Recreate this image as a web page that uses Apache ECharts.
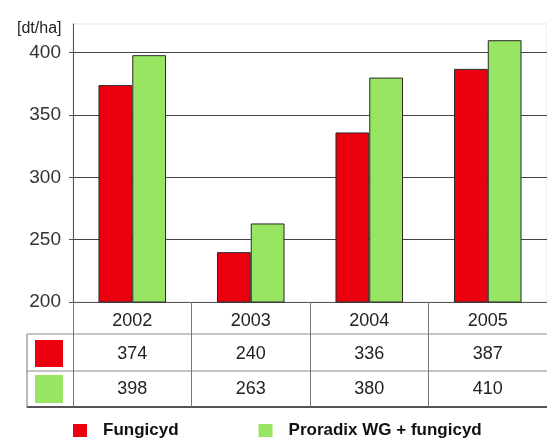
<!DOCTYPE html>
<html>
<head>
    <meta charset="UTF-8"/>
    <title>Plon</title>
    <style>
        * { padding: 0; margin: 0; }
        body { background: #fff; }
        #chart { width: 547px; height: 439px; }
    </style>
    <script src="https://cdn.jsdelivr.net/npm/echarts@6/dist/echarts.min.js"></script>
</head>
<body>
<div id="chart"></div>
<script>
    const years = ['2002', '2003', '2004', '2005']
    const fungicyd = [374, 240, 336, 387]
    const proradix = [398, 263, 380, 410]
    const seriesNames = ['Fungicyd', 'Proradix WG + fungicyd']
    const colors = ['#ec0010', '#98e463']

    const font = 'Liberation Sans, Arial, sans-serif'
    const chart = echarts.init(document.getElementById('chart'))

    // tabela pod osią: linie poziome + kwadraty kolorów
    const tableLines = [
        {type: 'line', shape: {x1: 27, y1: 334, x2: 547, y2: 334}, style: {stroke: '#8a8a8a', lineWidth: 1}},
        {type: 'line', shape: {x1: 27, y1: 371, x2: 547, y2: 371}, style: {stroke: '#8a8a8a', lineWidth: 1}},
        {type: 'line', shape: {x1: 27, y1: 407, x2: 547, y2: 407}, style: {stroke: '#555', lineWidth: 2}},
        {type: 'line', shape: {x1: 27, y1: 334, x2: 27, y2: 408}, style: {stroke: '#777', lineWidth: 1}},
        {type: 'rect', shape: {x: 35, y: 340, width: 28, height: 27}, style: {fill: colors[0]}},
        {type: 'rect', shape: {x: 35, y: 375, width: 28, height: 28}, style: {fill: colors[1]}}
    ]

    chart.setOption({
        animation: false,
        textStyle: {fontFamily: font},
        title: {
            text: '[dt/ha]',
            left: 12,
            top: 16,
            textStyle: {fontSize: 16, fontWeight: 'normal', color: '#222', fontFamily: font}
        },
        legend: {
            data: seriesNames,
            icon: 'rect',
            left: 73,
            top: 422,
            padding: 0,
            itemWidth: 14,
            itemHeight: 13,
            itemGap: 80,
            itemStyle: {borderWidth: 0},
            textStyle: {fontSize: 17, fontWeight: 'bold', color: '#111', padding: [0, 0, 0, 11]}
        },
        grid: {
            left: 73,
            top: 24,
            width: 486,
            height: 278,
            show: true,
            borderColor: '#e2e2e2',
            borderWidth: 1
        },
        xAxis: {
            type: 'category',
            data: years,
            axisLine: {lineStyle: {color: '#555', width: 1}},
            axisTick: {show: true, length: 105, lineStyle: {color: '#777'}},
            axisLabel: {
                margin: 4,
                formatter: (v, i) => `{h|${v}}\n{a|${fungicyd[i]}}\n{b|${proradix[i]}}`,
                rich: {
                    h: {fontSize: 18, lineHeight: 30, color: '#222', fontFamily: font},
                    a: {fontSize: 18, lineHeight: 36, color: '#222', fontFamily: font},
                    b: {fontSize: 18, lineHeight: 34, color: '#222', fontFamily: font}
                }
            }
        },
        yAxis: {
            type: 'value',
            min: 200,
            max: 423,
            interval: 50,
            axisLine: {show: true, lineStyle: {color: '#555'}},
            axisTick: {show: true, length: 4, lineStyle: {color: '#555'}},
            axisLabel: {margin: 12, fontSize: 19, color: '#333', showMaxLabel: false},
            splitLine: {show: true, showMaxLine: false, lineStyle: {color: '#444', width: 1}}
        },
        series: [
            {
                name: seriesNames[0],
                type: 'bar',
                data: fungicyd,
                barGap: '0%',
                barCategoryGap: '43%',
                itemStyle: {color: colors[0], borderColor: '#2a2a2a', borderWidth: 1}
            },
            {
                name: seriesNames[1],
                type: 'bar',
                data: proradix,
                itemStyle: {color: colors[1], borderColor: '#2a2a2a', borderWidth: 1}
            }
        ],
        graphic: tableLines
    })
</script>
</body>
</html>
